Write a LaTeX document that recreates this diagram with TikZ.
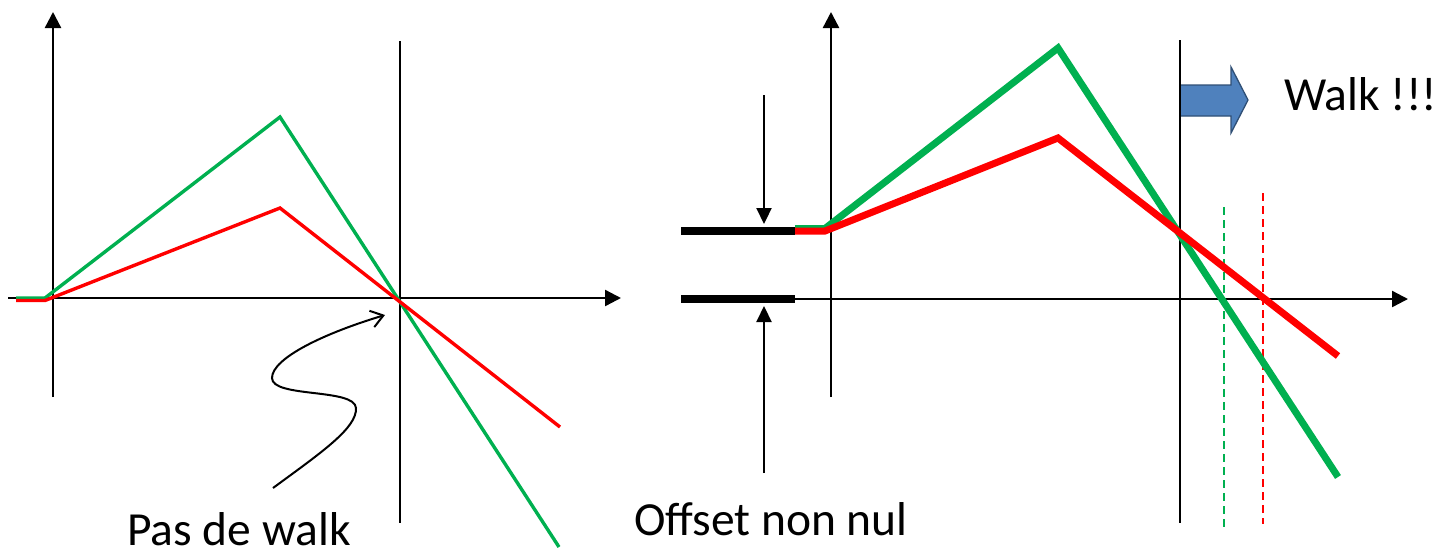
\documentclass[tikz,border=0pt]{standalone}
\usepackage{fontspec}
\setmainfont{Carlito}
\usetikzlibrary{arrows.meta}
\definecolor{cgreen}{HTML}{00B050}
\definecolor{cred}{HTML}{FF0000}
\definecolor{cblue}{HTML}{4F81BD}
\definecolor{cblueb}{HTML}{2F4F75}
\begin{document}
\begin{tikzpicture}[x=1pt,y=-1pt,
  axis/.style={line width=2.4pt,-{Triangle[width=16pt,length=16pt]}},
  vline/.style={line width=1.8pt},
  thinG/.style={cgreen,line width=3.4pt,line join=miter},
  thinR/.style={cred,line width=3.4pt,line join=miter},
  thickG/.style={cgreen,line width=7pt,line join=miter},
  thickR/.style={cred,line width=7pt,line join=miter},
  bar/.style={line width=8pt},
  offarrow/.style={line width=2.2pt,-{Triangle[width=15pt,length=16pt]}},
  dashG/.style={cgreen,line width=1.6pt,dash pattern=on 8pt off 5pt},
  dashR/.style={cred,line width=1.6pt,dash pattern=on 8pt off 5pt},
  lbl/.style={inner sep=0pt,anchor=base west,font=\fontsize{47.5}{56}\selectfont}]
\useasboundingbox (0,0) rectangle (1437,550);

% ---------- left diagram ----------
\coordinate (ly0) at (53,397); \coordinate (ly1) at (53,12);
\coordinate (lx0) at (8,298);  \coordinate (lx1) at (621,298);
\coordinate (lv0) at (400,41); \coordinate (lv1) at (400,523);
\draw[axis] (ly0) -- (ly1);
\draw[axis] (lx0) -- (lx1);
\draw[vline] (lv0) -- (lv1);

\coordinate (lgs) at (16,298); \coordinate (lga) at (45,298);
\coordinate (lgp) at (280,117); \coordinate (lge) at (559,547);
\coordinate (lrs) at (16,300.5); \coordinate (lra) at (45,300.5);
\coordinate (lrp) at (280,208); \coordinate (lre) at (560,427);
\draw[thinG] (lgs) -- (lga) -- (lgp) -- (lge);
\draw[thinR] (lrs) -- (lra) -- (lrp) -- (lre);

\coordinate (s0) at (273,488); \coordinate (s1) at (356,408);
\coordinate (s2) at (272,378); \coordinate (s3) at (385,315);
\draw[line width=2pt,-{Straight Barb[length=12pt,width=17pt,line width=2pt]}]
  (s0) .. controls (322,452) and (357,428) .. (s1)
       .. controls (355,388) and (272,398) .. (s2)
       .. controls (272,358) and (325,333) .. (s3);

\node[lbl] (pas) at (127,545.5) {Pas de walk};

% ---------- right diagram ----------
\coordinate (ry0) at (831,397); \coordinate (ry1) at (831,12);
\coordinate (rx0) at (794,299); \coordinate (rx1) at (1408,299);
\coordinate (rv0) at (1180,40); \coordinate (rv1) at (1180,523);
\draw[axis] (ry0) -- (ry1);
\draw[line width=2pt] (rx0) -- (1200,299);
\draw[axis] (1200,299) -- (rx1);
\draw[vline] (rv0) -- (rv1);

\coordinate (b1s) at (681,231); \coordinate (b1e) at (795,231);
\coordinate (b2s) at (681,299); \coordinate (b2e) at (795,299);
\draw[bar] (b1s) -- (b1e);
\draw[bar] (b2s) -- (b2e);

\coordinate (da0) at (764,95);  \coordinate (da1) at (764,224);
\coordinate (ua0) at (764,473); \coordinate (ua1) at (764,306);
\draw[offarrow] (da0) -- (da1);
\draw[offarrow] (ua0) -- (ua1);

\coordinate (dg0) at (1224,207); \coordinate (dg1) at (1224,531);
\coordinate (dr0) at (1263,193); \coordinate (dr1) at (1263,524);
\draw[dashG] (dg0) -- (dg1);
\draw[dashR] (dr0) -- (dr1);

\coordinate (rgs) at (795,228.5); \coordinate (rga) at (825,228.5);
\coordinate (rgp) at (1058,48);   \coordinate (rge) at (1338,477);
\coordinate (rrs) at (795,231);   \coordinate (rra) at (825,231);
\coordinate (rrp) at (1058,138);  \coordinate (rre) at (1338,356);
\draw[thickG] (rgs) -- (rga) -- (rgp) -- (rge);
\draw[thickR] (rrs) -- (rra) -- (rrp) -- (rre);

\draw[fill=cblue,draw=cblueb,line width=1.3pt,line join=miter]
  (1180,85) -- (1231,85) -- (1231,67) -- (1248,100) -- (1231,133) -- (1231,116) -- (1180,116) -- cycle;
\draw[vline] (1180,60) -- (1180,140);

\node[lbl] (walk) at (1284,110) {Walk !!!};
\node[lbl] (off) at (634,535) {Offset non nul};
\end{tikzpicture}
\end{document}
